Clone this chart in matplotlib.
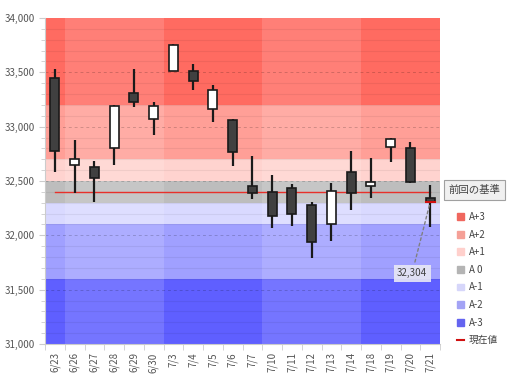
import matplotlib
matplotlib.use("Agg")
import matplotlib.pyplot as plt
import matplotlib.ticker as mticker
from matplotlib.lines import Line2D
from matplotlib.patches import Patch
import pandas as pd

plt.rcParams['font.family'] = ['Noto Sans CJK JP', 'DejaVu Sans']

dates = ["2023-06-23", "2023-06-26", "2023-06-27", "2023-06-28", "2023-06-29",
         "2023-06-30", "2023-07-03", "2023-07-04", "2023-07-05", "2023-07-06",
         "2023-07-07", "2023-07-10", "2023-07-11", "2023-07-12", "2023-07-13",
         "2023-07-14", "2023-07-18", "2023-07-19", "2023-07-20", "2023-07-21"]
opens = [33450, 32650, 32630, 32800, 33310, 33070, 33510, 33510, 33160, 33060,
         32450, 32400, 32440, 32280, 32100, 32580, 32455, 32810, 32800, 32340]
highs = [33530, 32880, 32680, 33200, 33530, 33230, 33760, 33580, 33380, 33075,
         32730, 32555, 32470, 32310, 32480, 32780, 32710, 32895, 32855, 32460]
lows = [32580, 32390, 32310, 32650, 33180, 32920, 33510, 33340, 33040, 32640,
        32330, 32070, 32090, 31790, 31950, 32230, 32340, 32675, 32480, 32080]
closes = [32780, 32700, 32530, 33190, 33230, 33190, 33750, 33420, 33340, 32770,
          32390, 32180, 32200, 31940, 32410, 32390, 32490, 32890, 32490, 32304]

band_names = ["A+3", "A+2", "A+1", "A 0", "A-1", "A-2", "A-3"]
band_lo = [33200, 32700, 32500, 32300, 32100, 31600, 31000]
band_hi = [34000, 33200, 32700, 32500, 32300, 32100, 31600]
band_colors = ["#ff6b61", "#ff9f97", "#ffd3cf", "#bdbdbd", "#d9d9ff", "#a0a0ff", "#5f5fff"]
legend_colors = ["#f0675e", "#f5a097", "#ffd0cc", "#b4b4b4", "#d6d6fa", "#a3a3f5", "#6464f0"]

prev_base = 32400
current = closes[-1]

dt = pd.to_datetime(dates)
labels = [f"{d.month}/{d.day}" for d in dt]
weeks = [d.isocalendar()[1] for d in dt]
n = len(dates)

fig = plt.figure(figsize=(5.07, 3.80), dpi=100)
ax = fig.add_axes([0.0888, 0.0947, 0.7791, 0.8579])

# background bands
for lo, hi, c in zip(band_lo, band_hi, band_colors):
    ax.axhspan(lo, hi, color=c, lw=0, zorder=0)
# lighter every other week
for i, w in enumerate(weeks):
    if w % 2 == 0:
        ax.axvspan(i - 0.5, i + 0.5, color="white", alpha=0.14, lw=0, zorder=0.5)

# grid
for v in range(31100, 34000, 100):
    if v % 500 == 0:
        ax.axhline(v, color="#000000", alpha=0.18, lw=0.7, ls=(0, (3, 3)), zorder=1)
    else:
        ax.axhline(v, color="#000000", alpha=0.06, lw=0.8, zorder=1)

# previous base line
ax.plot([0, n - 1], [prev_base, prev_base], color="#e8302a", lw=1.0, zorder=2)

# candles
w = 0.45
for i in range(n):
    o, h, l, c = opens[i], highs[i], lows[i], closes[i]
    ax.vlines(i, l, h, color="#1a1a1a", lw=1.6, zorder=3)
    fc = "white" if c > o else "#404040"
    bottom = min(o, c)
    height = max(abs(c - o), 8)
    ax.bar(i, height, bottom=bottom, width=w, color=fc, edgecolor="#1a1a1a",
           lw=1.2, zorder=4)

# current value marker
ax.plot([n - 1 - w / 2, n - 1 + w / 2], [current, current], color="#d01010", lw=1.5, zorder=5)
ax.annotate(f"{current:,}", xy=(n - 1, current), xytext=(-13, -51),
            textcoords="offset points", ha="center", va="center", fontsize=7,
            color="#404040",
            bbox=dict(boxstyle="square,pad=0.35", fc="#e8e8f4", ec="none", alpha=0.9),
            arrowprops=dict(arrowstyle="-", color="#808080", ls=(0, (2, 2)), lw=1),
            zorder=6)

ax.set_xlim(-0.5, n - 0.5)
ax.set_ylim(31000, 34000)
ax.set_xticks(range(n))
ax.set_xticklabels(labels, rotation=90, fontsize=7, color="#555555")
ax.set_xticks([i - 0.5 for i in range(n + 1)], minor=True)
ax.tick_params(axis="x", which="major", length=0, pad=6)
ax.tick_params(axis="x", which="minor", length=4, color="#cccccc")
ax.yaxis.set_major_locator(mticker.MultipleLocator(500))
ax.yaxis.set_minor_locator(mticker.MultipleLocator(100))
ax.yaxis.set_major_formatter(mticker.FuncFormatter(lambda v, p: f"{int(v):,}"))
ax.tick_params(axis="y", which="major", labelsize=7, labelcolor="#555555",
               length=4, color="#cccccc")
ax.tick_params(axis="y", which="minor", length=3, color="#cccccc")
for s in ["top", "right"]:
    ax.spines[s].set_visible(False)
for s in ["left", "bottom"]:
    ax.spines[s].set_color("#cccccc")

# button-like label
fig.text(0.936, 0.5, "前回の基準", ha="center", va="center", fontsize=7.5, color="#444444",
         bbox=dict(boxstyle="square,pad=0.45", fc="#f0f0f0", ec="#a0a0a0", lw=0.8))

handles = [Patch(color=c) for c in legend_colors]
handles.append(Line2D([0], [0], color="#d01010", lw=1.5))
leg = fig.legend(handles, band_names + ["現在値"], loc="upper left",
                 bbox_to_anchor=(0.885, 0.465), frameon=False, fontsize=7,
                 handlelength=0.7, handleheight=0.7, handletextpad=0.5,
                 labelspacing=0.78, labelcolor="#444444")

fig.savefig("out.png", dpi=100)
